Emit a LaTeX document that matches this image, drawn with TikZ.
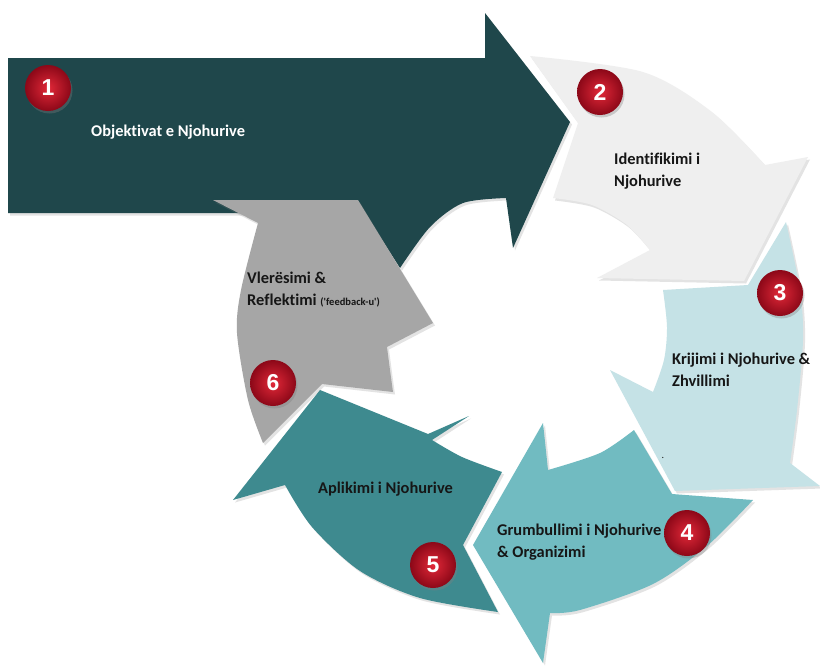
\documentclass[tikz,border=0pt]{standalone}
\usepackage{fontspec}
\setmainfont{Carlito}[Ligatures={TeX,NoCommon}]
\newfontfamily\numfont{Liberation Sans}
\usetikzlibrary{shadows}
\definecolor{cOne}{RGB}{31,71,75}
\definecolor{cTwo}{RGB}{239,239,239}
\definecolor{cThree}{RGB}{197,226,230}
\definecolor{cFour}{RGB}{113,187,193}
\definecolor{cFive}{RGB}{62,138,143}
\definecolor{cSix}{RGB}{166,166,166}
\definecolor{badgein}{RGB}{225,40,56}
\definecolor{badgeout}{RGB}{140,8,24}
\definecolor{txt}{RGB}{22,22,22}
\begin{document}
\begin{tikzpicture}[x=1pt,y=-1pt,
  seg/.style={drop shadow={opacity=0.22,shadow xshift=2pt,shadow yshift=-2.5pt}},
  lbl/.style={font=\fontsize{16.4}{22}\selectfont\bfseries, align=left, inner sep=0pt, anchor=west, text=txt},
  badge/.style={circle, minimum size=46pt, inner sep=0pt, shading=radial,
    inner color=badgein, outer color=badgeout, text=white,
    font=\numfont\bfseries\fontsize{23}{23}\selectfont,
    drop shadow={opacity=0.35, shadow xshift=1.5pt, shadow yshift=-2.5pt}}]
\useasboundingbox[fill=white] (0,0) rectangle (820,665);

% arrow 1 (dark)
\path[fill=cOne, seg] (8,58) -- (485,58) -- (485,13) -- (570,122) -- (513,248) -- (506,198)
  -- plot[smooth] coordinates {(506,198) (463,203) (430,227) (400,268)}
  -- (365,213) -- (8,213) -- cycle;

% arrow 2 (light gray)
\path[fill=cTwo, seg] (530,56)
  -- plot[smooth] coordinates {(530,56) (643,72) (712,112) (765,165)}
  -- (808,157) -- (744,281) -- (597,278) -- (650,250)
  -- plot[smooth] coordinates {(650,250) (627,225) (592,205) (553,198)}
  -- (578,123) -- cycle;

% arrow 3 (light blue)
\path[fill=cThree, seg] (786,222)
  -- plot[smooth] coordinates {(786,222) (800,290) (803,340) (797,410) (790,463)}
  -- (820,486) -- (675,491) -- (610,370) -- (653,392)
  -- plot[smooth] coordinates {(653,392) (664,360) (667,327) (663,290)}
  -- (748,285) -- cycle;

% arrow 4 (medium teal)
\path[fill=cFour, seg] (543,423) -- (548,470)
  -- plot[smooth] coordinates {(548,470) (600,453) (634,430)}
  -- (672,494) -- (753,500)
  -- plot[smooth] coordinates {(753,500) (707,546) (653,584) (580,610) (550,613)}
  -- (543,663) -- (473,545) -- cycle;

% arrow 5 (dark teal)
\path[fill=cFive, seg] (320,390) -- (428,434) -- (469,416) -- (432,440)
  -- plot[smooth] coordinates {(432,440) (462,457) (502,472)}
  -- (463,545) -- (498,612)
  -- plot[smooth] coordinates {(498,612) (420,598) (360,571) (312,527) (285,485)}
  -- (233,500) -- cycle;

% arrow 6 (gray)
\path[fill=cSix, seg] (213,200) -- (358,200) -- (433,323) -- (387,347)
  -- plot[smooth] coordinates {(387,347) (390,370) (393,392)}
  -- (322,384) -- (263,443)
  -- plot[smooth] coordinates {(263,443) (248,400) (237,333) (241,290) (258,223)}
  -- cycle;

% labels
\node[lbl, text=white] (t1) at (91,132) {Objektivat e Njohurive};
\node[lbl] (t2) at (614,171) {Identifikimi i\\Njohurive};
\node[lbl] (t3) at (672,370) {Krijimi i Njohurive \&\\Zhvillimi};
\node[lbl] (t4) at (497,542) {Grumbullimi i Njohurive\\\& Organizimi};
\node[lbl] (t5) at (318,489) {Aplikimi i Njohurive};
\node[lbl] (t6) at (247,290) {Vlerësimi \&\\Reflektimi {\fontsize{10.5}{10.5}\selectfont (\textquotesingle feedback-u\textquotesingle)}};
\node[font=\fontsize{10}{10}\selectfont, text=txt, inner sep=0pt] (dot) at (663,458) {.};

% badges
\node[badge] (b1) at (48,88) {1};
\node[badge] (b2) at (600,92) {2};
\node[badge] (b3) at (780,293) {3};
\node[badge] (b4) at (687,533) {4};
\node[badge] (b5) at (433,565) {5};
\node[badge] (b6) at (273,383) {6};
\end{tikzpicture}
\end{document}
